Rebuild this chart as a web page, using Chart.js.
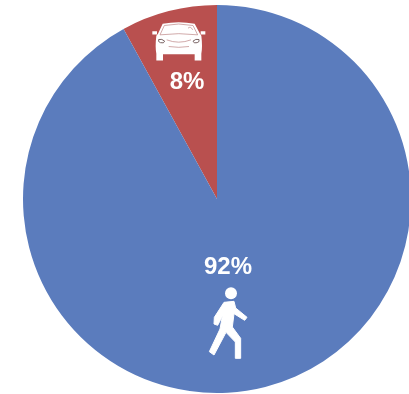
<!DOCTYPE html>
<html>
<head>
<meta charset="utf-8">
<style>
  html, body { margin: 0; padding: 0; background: #fff; overflow: hidden; }
  canvas { display: block; }
</style>
<script src="https://cdn.jsdelivr.net/npm/chart.js@4"></script>
</head>
<body>
<canvas id="chart" width="412" height="394"></canvas>
<script>
// Share of trips by travel mode
const categories = ['Car', 'Walking'];
const shares = [8, 92];
const sliceColors = ['#B9504F', '#5B7CBD'];

// Pictogram outlines, drawn at 3 units per pixel
const carBody = 'M30 52 L44 22 Q92 12 140 22 L156 52 L160 58 Q164 90 160 112 L160 132 L140 132 L140 113 L45 113 L45 132 L25 132 L25 112 Q21 90 25 58 Z';
const carMirrors = 'M13 44 L27 44 L27 54 L13 54 Z M158 44 L172 44 L172 54 L158 54 Z';
const carWindscreen = 'M36 55 L49 27 Q92 18 135 27 L149 55 Q92 48 36 55 Z';
const carLamps = 'M32 69 Q42 66 50 74 L46 79 Q36 80 32 75 Z M153 69 Q143 66 135 74 L139 79 Q149 80 153 75 Z';
const carGrille = 'M56 70 Q92 84 129 70 M62 90 Q92 95 123 90 M120 35 Q128 28 134 40';
const walkerBody = 'M102 160 L132 157 L137 177 L171 205 L164 214 L132 194 L127 234 L152 268 L152 328 L136 328 L136 279 L108 250 L72 318 L58 308 L90 240 L97 202 L83 229 L72 225 L73 205 Z';

const pictograms = {
  drawCar(ctx) {
    ctx.fillStyle = '#fff';
    ctx.fill(new Path2D(carBody));
    ctx.fill(new Path2D(carMirrors));
    ctx.strokeStyle = '#C08A8A';
    ctx.lineWidth = 2.2;
    ctx.stroke(new Path2D(carWindscreen));
    ctx.stroke(new Path2D(carGrille));
    ctx.strokeStyle = '#7A6464';
    ctx.lineWidth = 3;
    ctx.stroke(new Path2D(carLamps));
  },
  drawWalker(ctx) {
    ctx.fillStyle = '#fff';
    ctx.strokeStyle = '#fff';
    ctx.lineWidth = 3;
    ctx.lineJoin = 'round';
    ctx.beginPath();
    ctx.arc(123, 133, 18, 0, Math.PI * 2);
    ctx.fill();
    const outline = new Path2D(walkerBody);
    ctx.fill(outline);
    ctx.stroke(outline);
  }
};

// Offsets are measured from the pie centre, in pixels
const annotations = [
  { label: { dx: -30, dy: -117 }, icon: pictograms.drawCar, origin: { dx: -69, dy: -182.5 } },
  { label: { dx: 11, dy: 68 }, icon: pictograms.drawWalker, origin: { dx: -27, dy: 50 } }
];

const sliceAnnotations = {
  id: 'sliceAnnotations',
  afterDatasetsDraw(chart) {
    const ctx = chart.ctx;
    const arcs = chart.getDatasetMeta(0).data;
    arcs.forEach((arc, i) => {
      const note = annotations[i];
      ctx.save();
      ctx.fillStyle = '#fff';
      ctx.font = 'bold 24px "Liberation Sans", Arial, sans-serif';
      ctx.textAlign = 'center';
      ctx.textBaseline = 'middle';
      ctx.fillText(shares[i] + '%', arc.x + note.label.dx, arc.y + note.label.dy);
      ctx.translate(arc.x + note.origin.dx, arc.y + note.origin.dy);
      ctx.scale(1 / 3, 1 / 3);
      note.icon(ctx);
      ctx.restore();
    });
  }
};

new Chart(document.getElementById('chart'), {
  type: 'pie',
  data: {
    labels: categories,
    datasets: [{ data: shares, backgroundColor: sliceColors, borderWidth: 0 }]
  },
  options: {
    responsive: false,
    animation: false,
    rotation: -28.8,
    layout: { padding: { left: 23, right: 1, top: 5, bottom: 1 } },
    plugins: { legend: { display: false }, tooltip: { enabled: false } }
  },
  plugins: [sliceAnnotations]
});
</script>
</body>
</html>
